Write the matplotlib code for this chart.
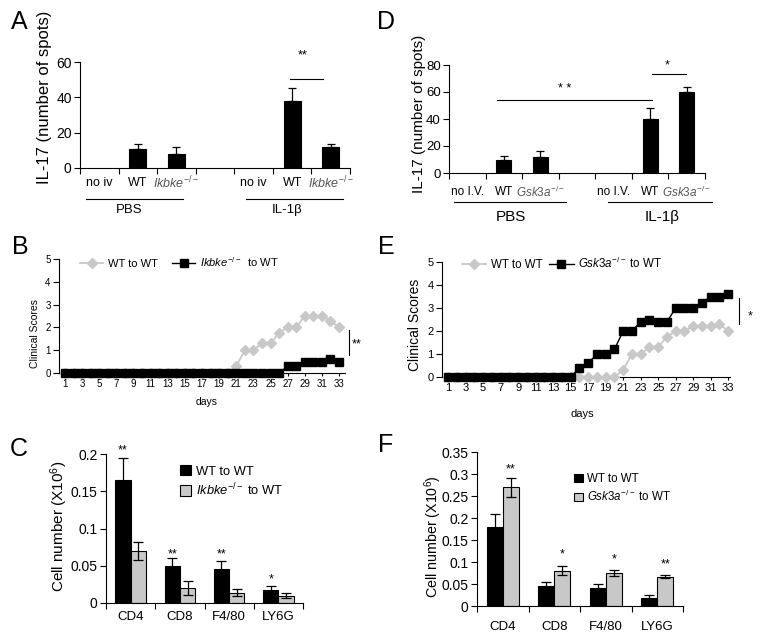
import matplotlib
matplotlib.use('Agg')
import matplotlib.pyplot as plt
from matplotlib.lines import Line2D
from matplotlib.patches import Patch
from matplotlib.transforms import blended_transform_factory
import numpy as np

plt.rcParams['font.family'] = 'Liberation Sans'
plt.rcParams['mathtext.fontset'] = 'custom'
plt.rcParams['mathtext.rm'] = 'Liberation Sans'
plt.rcParams['mathtext.it'] = 'Liberation Sans:italic'
plt.rcParams['axes.linewidth'] = 0.8

# ---------------- data ----------------
# Panel A (IL-17 spots, Ikbke)
a_conditions = ['no iv', 'WT', r'$\mathit{Ikbke}^{-/-}$']
a_groups = ['PBS', 'IL-1β']
a_pbs = [0, 11, 8]
a_pbs_err = [0, 2.5, 4]
a_il1b = [0, 38, 12]
a_il1b_err = [0, 7.5, 1.5]

# Panel D (IL-17 spots, Gsk3a)
d_conditions = ['no I.V.', 'WT', r'$\mathit{Gsk3a}^{-/-}$']
d_groups = ['PBS', 'IL-1β']
d_pbs = [0, 10, 12]
d_pbs_err = [0, 2.5, 4]
d_il1b = [0, 40, 60]
d_il1b_err = [0, 8, 4]

# Panel B / E (clinical scores)
days = list(range(1, 34))
b_wt = [0]*20 + [0.3, 1.0, 1.0, 1.3, 1.3, 1.75, 2.0, 2.0, 2.5, 2.5, 2.5, 2.3, 2.0]
b_ko = [0]*26 + [0.3, 0.3, 0.5, 0.5, 0.5, 0.6, 0.5]
e_wt = [0]*20 + [0.3, 1.0, 1.0, 1.3, 1.3, 1.75, 2.0, 2.0, 2.2, 2.2, 2.2, 2.3, 2.0]
e_ko = [0]*15 + [0.4, 0.6, 1.0, 1.0, 1.2, 2.0, 2.0, 2.4, 2.5, 2.4, 2.4, 3.0, 3.0, 3.0, 3.2, 3.5, 3.5, 3.6]

# Panel C / F (cell numbers)
cell_types = ['CD4', 'CD8', 'F4/80', 'LY6G']
c_wt = [0.165, 0.05, 0.045, 0.018]
c_wt_err = [0.03, 0.01, 0.012, 0.005]
c_ko = [0.07, 0.02, 0.014, 0.01]
c_ko_err = [0.012, 0.009, 0.005, 0.003]
c_stars = ['**', '**', '**', '*']
f_wt = [0.18, 0.045, 0.04, 0.018]
f_wt_err = [0.03, 0.01, 0.011, 0.008]
f_ko = [0.27, 0.08, 0.075, 0.067]
f_ko_err = [0.022, 0.01, 0.007, 0.003]
f_stars = ['**', '*', '*', '**']

# ---------------- figure ----------------
W, H = 765, 637
fig = plt.figure(figsize=(W/100, H/100), dpi=100)

def rect(l, t, r, b):
    return [l/W, 1-b/H, (r-l)/W, (b-t)/H]

def ftext(x, y, s, **kw):
    return fig.text(x/W, 1-y/H, s, **kw)

def style(ax, fs):
    for s in ['top', 'right']:
        ax.spines[s].set_visible(False)
    ax.tick_params(direction='out', length=4, width=0.8, labelsize=fs, pad=2)

def blend(ax):
    return blended_transform_factory(ax.transData, fig.transFigure)

def spot_panel(ax, conds, groups, pbs, pbs_err, il, il_err, width, ymax, yticks,
               lab_y, line_y, grp_y, line_x, grp_x, fs_tick, fs_cat, fs_grp, capsize):
    style(ax, fs_tick)
    pos_p = np.arange(3) + 0.5
    pos_i = np.arange(3) + 4.5
    vals = list(pbs) + list(il)
    errs = list(pbs_err) + list(il_err)
    pos = list(pos_p) + list(pos_i)
    for x, v, e in zip(pos, vals, errs):
        if v > 0:
            ax.bar(x, v, width=width, color='black', edgecolor='black', linewidth=0.8, zorder=2)
            ax.errorbar(x, v, yerr=[[0], [e]], fmt='none', ecolor='black', elinewidth=0.9,
                        capsize=capsize, capthick=0.9, zorder=3)
    ax.set_xlim(0, 7)
    ax.set_ylim(0, ymax)
    ax.set_yticks(yticks)
    ax.set_xticks(range(8))
    ax.set_xticklabels([])
    tr = blend(ax)
    for x, c in zip(pos, list(conds) + list(conds)):
        col = '#555555' if 'mathit' in c else 'black'
        ax.text(x, 1-lab_y/H, c, transform=tr, ha='center', va='center', fontsize=fs_cat, color=col)
    for (x0, x1), gx, g in zip(line_x, grp_x, groups):
        ax.plot([x0, x1], [1-line_y/H]*2, transform=tr, color='black', lw=0.8, clip_on=False)
        ax.text(gx, 1-grp_y/H, g, transform=tr, ha='center', va='center', fontsize=fs_grp)

# ---- Panel A ----
axA = fig.add_axes(rect(80, 62, 350, 168))
spot_panel(axA, a_conditions, a_groups, a_pbs, a_pbs_err, a_il1b, a_il1b_err, 0.44, 60,
           [0, 20, 40, 60], 183, 199, 210, [(0.16, 2.67), (4.3, 6.81)], [1.27, 5.36],
           10, 9, 9.5, 3)
axA.plot([5.45, 6.3], [50.4, 50.4], color='black', lw=0.8, clip_on=False)
axA.text(5.78, 63.5, '**', ha='center', va='center', fontsize=9, clip_on=False)

# ---- Panel D ----
axD = fig.add_axes(rect(449, 65, 705, 173))
spot_panel(axD, d_conditions, d_groups, d_pbs, d_pbs_err, d_il1b, d_il1b_err, 0.41, 80,
           [0, 20, 40, 60, 80], 192, 202, 217, [(0.14, 3.2), (4.34, 7.19)], [1.69, 5.82],
           9.5, 8.5, 11, 3.2)
axD.plot([1.31, 5.55], [54, 54], color='black', lw=0.8, clip_on=False)
axD.text(3.17, 62, '* *', ha='center', va='center', fontsize=9, clip_on=False)
axD.plot([5.55, 6.48], [73, 73], color='black', lw=0.8, clip_on=False)
axD.text(5.96, 80, '*', ha='center', va='center', fontsize=9, clip_on=False)

# ---- Panels B / E ----
def score_panel(ax, wt, ko, xlim, fs_tick, leg_xy, leg_fs, ko_label, colsp):
    style(ax, fs_tick)
    ax.tick_params(axis='x', length=2)
    ax.plot(days, wt, color='#c8c8c8', marker='D', ms=4.6, lw=1.3, clip_on=False, zorder=3)
    ax.plot(days, ko, color='black', marker='s', ms=6.2, lw=1.0, clip_on=False, zorder=4)
    ax.set_xlim(*xlim)
    ax.set_ylim(0, 5)
    ax.set_yticks(range(6))
    ax.set_xticks(days[::2])
    h1 = Line2D([], [], color='#c8c8c8', marker='D', ms=4.6, lw=1.3)
    h2 = Line2D([], [], color='black', marker='s', ms=6.2, lw=1.0)
    ax.legend([h1, h2], ['WT to WT', ko_label], ncol=2, loc='center left',
              bbox_to_anchor=(leg_xy[0]/W, 1-leg_xy[1]/H), bbox_transform=fig.transFigure,
              frameon=False, fontsize=leg_fs, handlelength=2.1, handletextpad=0.4,
              columnspacing=colsp, borderpad=0, borderaxespad=0, numpoints=1)

axB = fig.add_axes(rect(59, 259, 345, 373))
score_panel(axB, b_wt, b_ko, (0.30, 33.7), 7, (80, 262), 8,
            r'$\mathit{Ikbke}^{-/-}$  to WT', 1.3)
axB.plot([34.17, 34.17], [0.8, 1.9], color='black', lw=0.8, clip_on=False)
axB.text(34.5, 1.25, '**', ha='left', va='center', fontsize=9, clip_on=False)
ftext(207, 402, 'days', ha='center', va='center', fontsize=7.5)

axE = fig.add_axes(rect(442, 262, 730, 377))
score_panel(axE, e_wt, e_ko, (0.31, 33.2), 8, (462, 263), 8.3,
            r'$\mathit{Gsk3a}^{-/-}$ to WT', 0.6)
axE.plot([34.26, 34.26], [2.3, 3.43], color='black', lw=0.8, clip_on=False)
axE.text(35.5, 2.65, '*', ha='center', va='center', fontsize=9, clip_on=False)
ftext(582, 414, 'days', ha='center', va='center', fontsize=8)

# ---- Panels C / F ----
def cell_panel(ax, wt, wt_err, ko, ko_err, stars, star_on_ko, star_y, ymax, yticks, ytl,
               fs_tick, fs_cat, cat_y, leg_xy, leg_fs, ko_label, hl, capsize):
    style(ax, fs_tick)
    g = np.arange(4) + 0.5
    w = 0.31
    ax.bar(g - w/2, wt, width=w, color='black', edgecolor='black', linewidth=0.8, zorder=2)
    ax.bar(g + w/2, ko, width=w, color='#c8c8c8', edgecolor='black', linewidth=0.8, zorder=2)
    ax.errorbar(g - w/2, wt, yerr=wt_err, fmt='none', ecolor='black', elinewidth=0.9,
                capsize=capsize, capthick=0.9, zorder=3)
    ax.errorbar(g + w/2, ko, yerr=ko_err, fmt='none', ecolor='black', elinewidth=0.9,
                capsize=capsize, capthick=0.9, zorder=3)
    ax.set_xlim(0, 4)
    ax.set_ylim(0, ymax)
    ax.set_yticks(yticks)
    ax.set_yticklabels(ytl)
    ax.set_xticks(range(5))
    ax.set_xticklabels([])
    tr = blend(ax)
    for x, c in zip(g, cell_types):
        ax.text(x, 1-cat_y/H, c, transform=tr, ha='center', va='center', fontsize=fs_cat)
    for x, s, y in zip(g, stars, star_y):
        xx = x + w/2 if star_on_ko else x - w/2
        ax.text(xx, y, s, ha='center', va='center', fontsize=9, clip_on=False)
    ax.legend([Patch(facecolor='black', edgecolor='black', linewidth=0.8),
               Patch(facecolor='#c8c8c8', edgecolor='black', linewidth=0.8)],
              ['WT to WT', ko_label], loc='center left',
              bbox_to_anchor=(leg_xy[0]/W, 1-leg_xy[1]/H), bbox_transform=fig.transFigure,
              frameon=False, fontsize=leg_fs, handlelength=hl, handleheight=hl,
              handletextpad=0.35, labelspacing=0.3, borderpad=0, borderaxespad=0)

axC = fig.add_axes(rect(106, 454, 303, 603))
cell_panel(axC, c_wt, c_wt_err, c_ko, c_ko_err, c_stars, False,
           [0.205, 0.065, 0.065, 0.032], 0.2, [0, 0.05, 0.1, 0.15, 0.2],
           ['0', '0.05', '0.1', '0.15', '0.2'], 10, 9.5, 617, (180, 481.5), 9.3,
           r'$\mathit{Ikbke}^{-/-}$ to WT', 0.85, 3.5)

axF = fig.add_axes(rect(477, 452, 683, 606))
cell_panel(axF, f_wt, f_wt_err, f_ko, f_ko_err, f_stars, True,
           [0.31, 0.117, 0.106, 0.095], 0.35, [0, 0.05, 0.1, 0.15, 0.2, 0.25, 0.3, 0.35],
           ['0', '0.05', '0.1', '0.15', '0.2', '0.25', '0.3', '0.35'], 10, 9.5, 627,
           (574, 488.5), 8.3, r'$\mathit{Gsk3a}^{-/-}$ to WT', 0.75, 3.5)

# ---- axis labels ----
ftext(45, 97, 'IL-17 (number of spots)', rotation=90, ha='center', va='center', fontsize=12)
ftext(419, 114, 'IL-17 (number of spots)', rotation=90, ha='center', va='center', fontsize=11)
ftext(35, 333, 'Clinical Scores', rotation=90, ha='center', va='center', fontsize=7.5)
ftext(415, 325, 'Clinical Scores', rotation=90, ha='center', va='center', fontsize=10)
ftext(59, 526, r'Cell number (X10$^{6}$)', rotation=90, ha='center', va='center', fontsize=11)
ftext(433, 537, r'Cell number (X10$^{6}$)', rotation=90, ha='center', va='center', fontsize=10.3)

# ---- panel letters ----
for L, x, y in [('A', 19, 22), ('B', 20, 247), ('C', 19, 449),
                ('D', 386, 22), ('E', 386, 247), ('F', 386, 445)]:
    ftext(x, y, L, ha='center', va='center', fontsize=18)

fig.savefig('out.png', dpi=100)
